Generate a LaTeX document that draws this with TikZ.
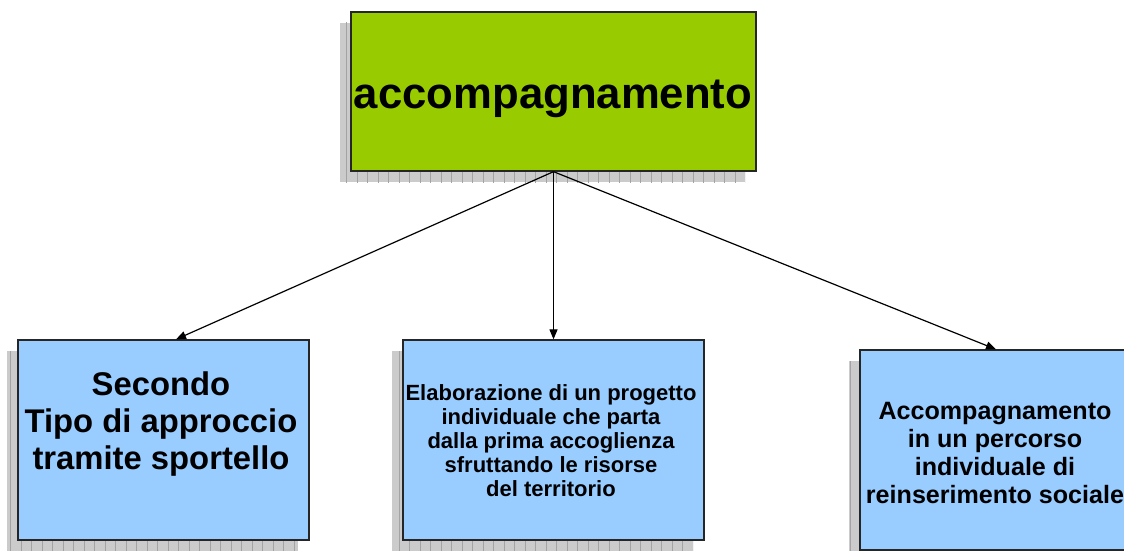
\documentclass[tikz,border=0pt]{standalone}
\usepackage{fontspec}
\setmainfont{Liberation Sans}
\usetikzlibrary{arrows.meta}
\definecolor{topgreen}{HTML}{99CC00}
\definecolor{boxblue}{HTML}{99CCFF}
\definecolor{shadowfill}{HTML}{CBCBCB}
\definecolor{shadowgrid}{HTML}{A3A3A3}
\newcommand\gridshadow[4]{%
  \fill[shadowfill] (#1-11,#2+11) rectangle (#3-11,#4+11);
  \begin{scope}
    \clip (#1-11,#2+11) rectangle (#3-11,#4+11);
    \draw[shadowgrid, line width=0.7pt, step=10.5] (#1-30,#2-10) grid (#3+10,#4+30);
  \end{scope}}
\begin{document}
\begin{tikzpicture}[x=1pt,y=-1pt,
  boxbase/.style={draw=black!85, line width=1.3pt, inner sep=0pt},
  greenbox/.style={boxbase, fill=topgreen},
  bluebox/.style={boxbase, fill=boxblue},
  txt/.style={align=center, inner sep=0pt, font=\bfseries},
  conn/.style={line width=1.2pt, -{Triangle[length=10pt,width=8pt]}}]
\useasboundingbox (0,0) rectangle (1124,551);
\clip (0,0) rectangle (1124,551);
\fill[white] (0,0) rectangle (1124,551);
% shadows
\gridshadow{351}{12}{756}{171}
\gridshadow{18}{340}{309}{540}
\gridshadow{403}{340}{704}{540}
\gridshadow{860}{350}{1132}{550}
% boxes
\node[greenbox, minimum width=405pt, minimum height=159pt] (top) at (553.5,91.5) {};
\node[bluebox, minimum width=291pt, minimum height=200pt] (b1) at (163.5,440) {};
\node[bluebox, minimum width=301pt, minimum height=200pt] (b2) at (553.5,440) {};
\node[bluebox, minimum width=272pt, minimum height=200pt] (b3) at (996,450) {};
% texts
\node[txt, anchor=base, font=\fontsize{43.7}{48}\bfseries\selectfont] (ttop) at (553,108) {accompagnamento};
\node[txt, font=\fontsize{32.8}{37}\bfseries\selectfont] (t1) at (161,424) {Secondo\\Tipo di approccio\\tramite sportello};
\node[txt, font=\fontsize{22}{24}\bfseries\selectfont] (t2) at (551,441) {Elaborazione di un progetto\\individuale che parta\\dalla prima accoglienza\\sfruttando le risorse\\del territorio};
\node[txt, font=\fontsize{25.1}{28}\bfseries\selectfont] (t3) at (995,453) {Accompagnamento\\in un percorso\\individuale di\\reinserimento sociale};
% connectors
\draw[conn] (top.south) -- ([xshift=12.5pt]b1.north);
\draw[conn] (top.south) -- (b2.north);
\draw[conn] (top.south) -- (b3.north);
\end{tikzpicture}
\end{document}
